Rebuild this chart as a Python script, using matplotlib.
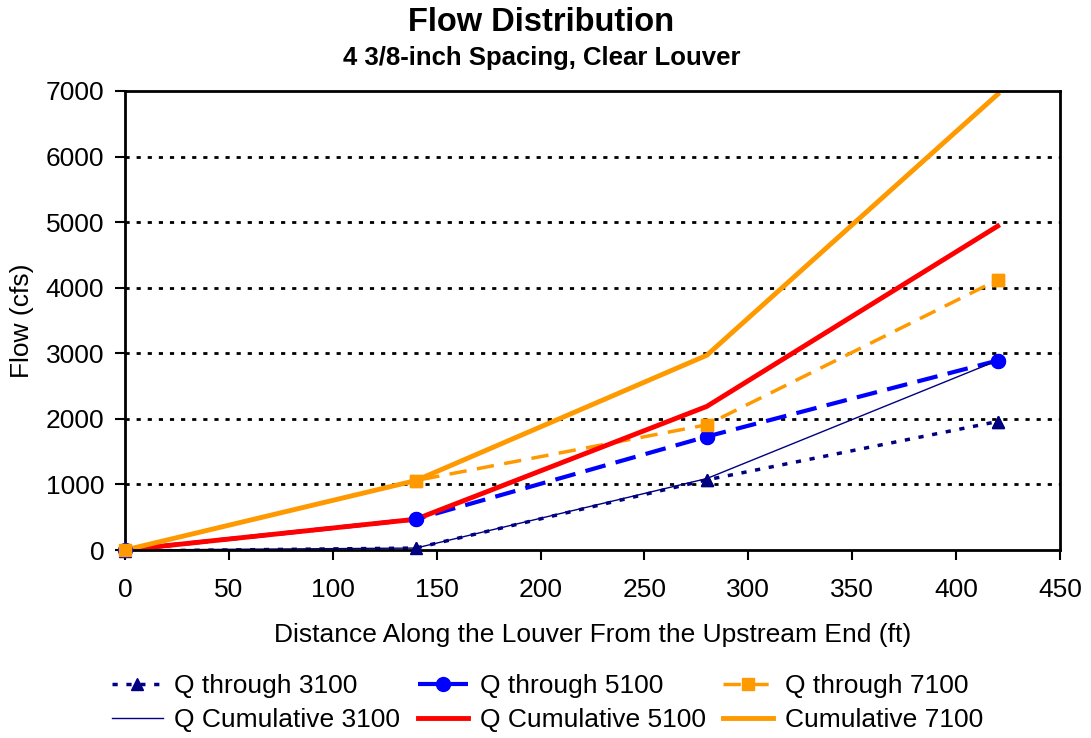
import numpy as np
import matplotlib.pyplot as plt

plt.rcParams['font.family'] = ['Liberation Sans', 'DejaVu Sans']

# distance along louver (ft)
dist = [0, 140, 280, 420]

# flow (cfs)
q_thru_3100 = [-15, 30, 1070, 1960]
q_thru_5100 = [0, 470, 1730, 2890]
q_thru_7100 = [0, 1060, 1910, 4120]
q_cum_3100 = [0, 30, 1090, 2890]
q_cum_5100 = [0, 470, 2190, 4940]
q_cum_7100 = [0, 1060, 2970, 6950]

navy = '#000080'
blue = '#0000FF'
orange = '#FF9900'
red = '#FF0000'

fig = plt.figure(figsize=(10.91, 7.38), dpi=100)
ax = fig.add_axes([0.1146, 0.2547, 0.857, 0.622])

# per-segment flows (dashed)
l1, = ax.plot(dist, q_thru_3100, color=navy, lw=2.5, linestyle=(0, (1.5, 2.5)),
              marker='^', ms=9, label='Q through 3100', zorder=2)
l2, = ax.plot(dist, q_thru_5100, color=blue, lw=3, linestyle=(0, (5, 2.5)),
              marker='o', ms=10, label='Q through 5100', zorder=2)
l3, = ax.plot(dist, q_thru_7100, color=orange, lw=2.5, linestyle=(0, (5, 3)),
              marker='s', ms=9, label='Q through 7100', zorder=2)

# cumulative (solid) over the dashed ones
l4, = ax.plot(dist, q_cum_3100, color=navy, lw=1.0, label='Q Cumulative 3100', zorder=2.5)
l5, = ax.plot(dist, q_cum_5100, color=red, lw=3.5, label='Q Cumulative 5100', zorder=2.5)
l6, = ax.plot(dist, q_cum_7100, color=orange, lw=3.5, label='Cumulative 7100', zorder=2.5)

# markers on top of everything
ax.plot(dist, q_thru_3100, color=navy, ls='none', marker='^', ms=9, clip_on=False, zorder=3)
ax.plot(dist, q_thru_5100, color=blue, ls='none', marker='o', ms=10, clip_on=False, zorder=3)
ax.plot(dist, q_thru_7100, color=orange, ls='none', marker='s', ms=9, clip_on=False, zorder=3)

ax.set_xlim(0, 450)
ax.set_ylim(0, 7000)
ax.set_xticks(np.arange(0, 451, 50))
ax.set_yticks(np.arange(0, 7001, 1000))
for yv in range(1000, 7000, 1000):
    ax.axhline(yv, color='black', lw=2, linestyle=(0, (1.5, 2.5)), zorder=0)

for s in ax.spines.values():
    s.set_linewidth(2)
    s.set_color('black')
ax.tick_params(axis='both', direction='out', length=7, width=1.5, labelsize=19)
ax.tick_params(axis='x', pad=13)
ax.tick_params(axis='y', pad=8)

ax.set_xlabel('Distance Along the Louver From the Upstream End (ft)', fontsize=19, labelpad=15)
ax.set_ylabel('Flow (cfs)', fontsize=19, labelpad=8)

fig.text(0.496, 0.970, 'Flow Distribution', ha='center', va='center',
         fontsize=23.5, fontweight='bold')
fig.text(0.497, 0.921, '4 3/8-inch Spacing, Clear Louver', ha='center', va='center',
         fontsize=18.5, fontweight='bold')

fig.legend(handles=[l1, l4, l2, l5, l3, l6], ncol=3, loc='lower center',
           bbox_to_anchor=(0.502, -0.024), frameon=False, fontsize=19,
           handlelength=1.9, columnspacing=0.65, handletextpad=0.45,
           labelspacing=0.38)

fig.savefig('out.png', dpi=100)
